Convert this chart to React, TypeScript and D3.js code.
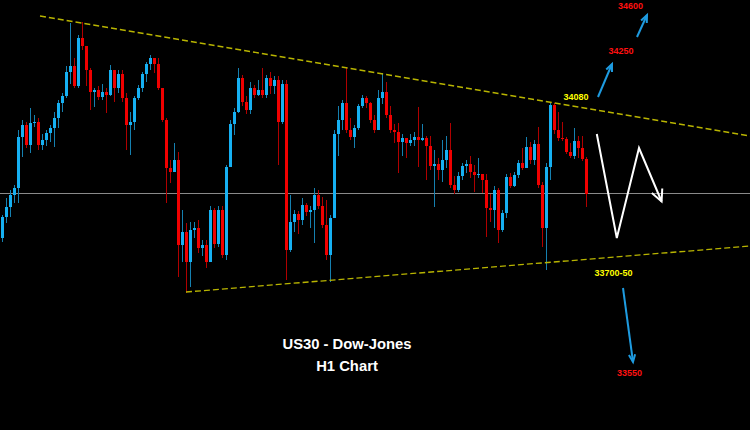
import React from "react";
import * as d3 from "d3";

const W = 750;
const H = 430;

// Hourly candles (price units), open of each candle = previous close
const FIRST_OPEN = 33824;
const CLOSE = [
  33866, 33886, 33910, 33924, 34026, 34050, 34010, 34054, 34056, 34010,
  34020, 34034, 34044, 34064, 34094, 34108, 34156, 34168, 34128, 34224,
  34208, 34160, 34116, 34120, 34106, 34116, 34110, 34160, 34124, 34152,
  34104, 34050, 34056, 34104, 34124, 34152, 34172, 34184, 34172, 34124,
  34060, 33964, 33956, 33980, 33810, 33836, 33776, 33840, 33844, 33804,
  33810, 33776, 33880, 33812, 33880, 33790, 33966, 34052, 34076, 34144,
  34096, 34080, 34124, 34110, 34120, 34110, 34144, 34128, 34140, 34056,
  34132, 33800, 33856, 33872, 33860, 33890, 33876, 33880, 33910, 33888,
  33850, 33790, 33864, 34032, 34060, 34094, 34040, 34026, 34044, 34088,
  34104, 34094, 34060, 34040, 34104, 34116, 34070, 34040, 34036, 34016,
  34024, 34014, 34020, 34026, 34020, 34024, 34008, 33968, 33972, 33960,
  33980, 34000, 33930, 33920, 33948, 33968, 33972, 33956, 33950, 33952,
  33940, 33884, 33880, 33920, 33840, 33874, 33946, 33928, 33950, 33974,
  33964, 34006, 33980, 34012, 33930, 33844, 33966, 34090, 34040, 34024,
  34022, 33996, 33988, 34018, 34004, 33982, 33912,
];
const HIGH = [
  33870, 33904, 33920, 33930, 34040, 34060, 34056, 34084, 34070, 34064,
  34032, 34040, 34050, 34076, 34100, 34114, 34168, 34254, 34184, 34230,
  34256, 34208, 34164, 34124, 34128, 34132, 34124, 34170, 34160, 34160,
  34160, 34114, 34076, 34108, 34130, 34156, 34176, 34190, 34184, 34184,
  34124, 34064, 33980, 34014, 33996, 33880, 33854, 33856, 33856, 33860,
  33820, 33820, 33888, 33884, 33888, 33888, 33970, 34060, 34084, 34164,
  34150, 34108, 34136, 34130, 34140, 34164, 34150, 34156, 34148, 34148,
  34140, 34140, 33910, 33880, 33878, 33904, 33894, 33888, 33924, 33920,
  33906, 33900, 33870, 34040, 34088, 34100, 34166, 34064, 34050, 34092,
  34110, 34108, 34096, 34070, 34120, 34154, 34136, 34088, 34052, 34054,
  34032, 34024, 34032, 34036, 34086, 34052, 34028, 34028, 34000, 33984,
  34020, 34028, 34054, 33948, 33956, 33974, 33980, 33988, 33970, 33984,
  33952, 33952, 33912, 33928, 33924, 33880, 33952, 33954, 33956, 33980,
  34004, 34026, 34016, 34020, 34046, 33936, 33974, 34094, 34094, 34076,
  34056, 34026, 34014, 34044, 34028, 34028, 33986,
];
const LOW = [
  33816, 33854, 33866, 33894, 33894, 33986, 34004, 33994, 34046, 34000,
  34000, 34008, 34016, 34006, 34044, 34076, 34104, 34132, 34124, 34124,
  34200, 34128, 34080, 34086, 34100, 34100, 34074, 34108, 34096, 34114,
  34096, 34000, 33990, 34040, 34100, 34116, 34136, 34160, 34154, 34120,
  34056, 33894, 33934, 33956, 33746, 33776, 33714, 33726, 33824, 33794,
  33788, 33764, 33776, 33804, 33806, 33784, 33780, 33966, 34030, 34074,
  34088, 34072, 34072, 34104, 34108, 34104, 34104, 34112, 34112, 33970,
  34052, 33740, 33796, 33836, 33832, 33850, 33868, 33844, 33814, 33882,
  33844, 33780, 33736, 33864, 33988, 34040, 34034, 34020, 34004, 34040,
  34084, 34084, 34054, 34034, 34052, 34092, 34064, 34034, 34014, 33954,
  33988, 33984, 34008, 34008, 33966, 34018, 33940, 33960, 33886, 33940,
  33936, 33964, 33924, 33912, 33916, 33940, 33954, 33944, 33916, 33944,
  33914, 33826, 33856, 33844, 33814, 33836, 33864, 33924, 33926, 33944,
  33960, 33964, 33972, 33970, 33924, 33806, 33760, 33940, 34032, 34018,
  34018, 33992, 33984, 33982, 33984, 33978, 33886,
];

const CURRENT_PRICE = 33914;

// Annotation geometry in (candle index, price) units
const TREND_TOP = [[9.5, 34268], [187, 34028]];
const TREND_BOTTOM = [[46, 33716], [187, 33808]];
const ZIGZAG = [[148.7, 34032], [153.7, 33824], [159.25, 34004], [164.9, 33897]];
const BLUE_ARROWS = [
  [[149, 34106], [152.5, 34172]],
  [[158.75, 34226], [161.25, 34270]],
  [[155.25, 33724], [157.75, 33576]],
];
const LEVEL_LABELS = [
  { text: "34600", i: 157.1, p: 34282, color: "#ff1010" },
  { text: "34250", i: 154.75, p: 34193, color: "#ff1010" },
  { text: "34080", i: 143.5, p: 34100, color: "#ffff00" },
  { text: "33700-50", i: 152.9, p: 33749, color: "#ffff00" },
  { text: "33550", i: 156.9, p: 33548, color: "#ff1010" },
];
const TITLE_LINES = ["US30 - Dow-Jones", "H1 Chart"];

const BULL = "#16b0f2";
const BEAR = "#f00000";
const BULL_WICK = "#1580b0";
const BEAR_WICK = "#b00000";

export default function App() {
  const x = d3.scaleLinear().domain([0, CLOSE.length - 1]).range([2, 586]);
  const y = d3.scaleLinear().domain([33440, 34300]).range([H, 0]);
  const bw = 3;

  const candles = CLOSE.map((c, i) => {
    const o = i === 0 ? FIRST_OPEN : CLOSE[i - 1];
    const hi = Math.max(HIGH[i], o, c);
    const lo = Math.min(LOW[i], o, c);
    return { i, o, c, hi, lo, bull: c >= o };
  });

  const line = d3.line<number[]>().x((d) => x(d[0])).y((d) => y(d[1]));

  const arrowHead = (a: number[], b: number[], len: number, ang: number) => {
    const x1 = x(a[0]), y1 = y(a[1]), x2 = x(b[0]), y2 = y(b[1]);
    const t = Math.atan2(y2 - y1, x2 - x1);
    const p1 = [x2 - len * Math.cos(t - ang), y2 - len * Math.sin(t - ang)];
    const p2 = [x2 - len * Math.cos(t + ang), y2 - len * Math.sin(t + ang)];
    return `M${p1[0]},${p1[1]}L${x2},${y2}L${p2[0]},${p2[1]}`;
  };

  const zzLast = ZIGZAG.length - 1;

  return (
    <svg
      width={W}
      height={H}
      style={{ position: "absolute", left: 0, top: 0, background: "#000" }}
    >
      <rect x={0} y={0} width={W} height={H} fill="#000" />
      <line
        x1={0}
        x2={W}
        y1={y(CURRENT_PRICE) + 0.5}
        y2={y(CURRENT_PRICE) + 0.5}
        stroke="#8a8a8a"
        strokeWidth={1}
      />
      <g shapeRendering="crispEdges">
        {candles.map((d) => (
          <g key={d.i}>
            <line
              x1={Math.round(x(d.i)) + 0.5}
              x2={Math.round(x(d.i)) + 0.5}
              y1={y(d.hi)}
              y2={y(d.lo)}
              stroke={d.bull ? BULL_WICK : BEAR_WICK}
              strokeWidth={1}
            />
            <rect
              x={Math.round(x(d.i)) - 1}
              width={bw}
              y={y(Math.max(d.o, d.c))}
              height={Math.max(1, Math.abs(y(d.o) - y(d.c)))}
              fill={d.bull ? BULL : BEAR}
            />
          </g>
        ))}
      </g>
      <path d={line(TREND_TOP) || ""} stroke="#b8b400" strokeWidth={1.3} strokeDasharray="6,3" fill="none" />
      <path d={line(TREND_BOTTOM) || ""} stroke="#b8b400" strokeWidth={1.3} strokeDasharray="6,3" fill="none" />

      <path d={line(ZIGZAG) || ""} stroke="#ffffff" strokeWidth={2} fill="none" strokeLinejoin="miter" />
      <path
        d={arrowHead(ZIGZAG[zzLast - 1], ZIGZAG[zzLast], 13, 0.45)}
        stroke="#ffffff"
        strokeWidth={2}
        fill="none"
      />

      {BLUE_ARROWS.map((a, k) => (
        <g key={k}>
          <path d={line(a) || ""} stroke="#1e9be0" strokeWidth={2} fill="none" />
          <path d={arrowHead(a[0], a[1], 8, 0.4)} stroke="#1e9be0" strokeWidth={2} fill="none" />
        </g>
      ))}

      {LEVEL_LABELS.map((l) => (
        <text
          key={l.text}
          x={x(l.i)}
          y={y(l.p)}
          textAnchor="middle"
          fill={l.color}
          fontFamily="Liberation Sans, Arial, sans-serif"
          fontWeight="bold"
          fontSize={9}
        >
          {l.text}
        </text>
      ))}

      {TITLE_LINES.map((t, k) => (
        <text
          key={t}
          x={347}
          y={349 + k * 22}
          textAnchor="middle"
          fill="#ffffff"
          fontFamily="Liberation Sans, Arial, sans-serif"
          fontWeight="bold"
          fontSize={14.8}
        >
          {t}
        </text>
      ))}
    </svg>
  );
}
